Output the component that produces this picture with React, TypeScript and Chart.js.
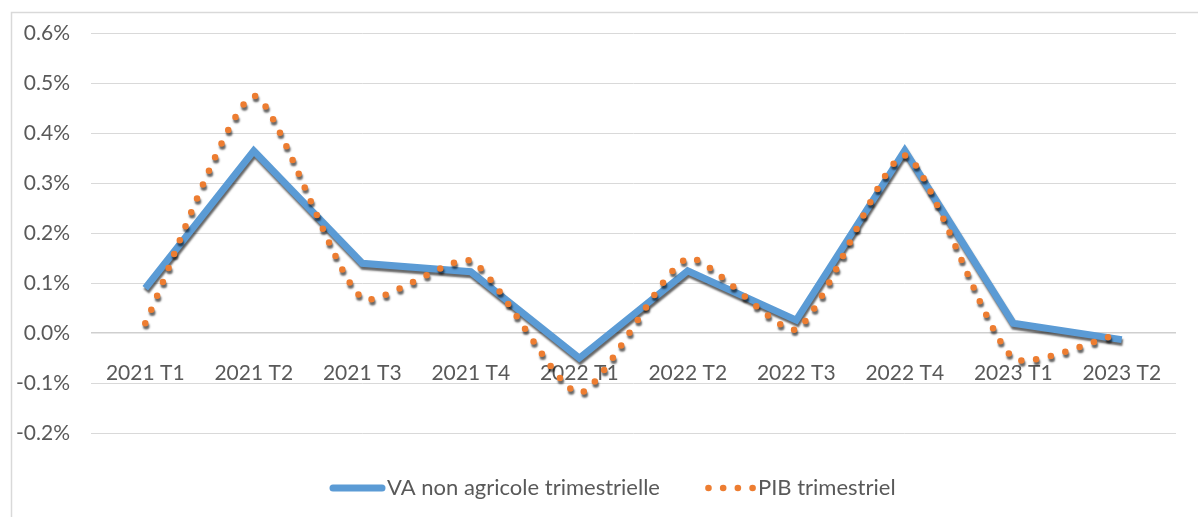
import React, { useEffect, useRef } from 'react';
import { Chart, registerables } from 'chart.js';

Chart.register(...registerables);

// ---- Data ----
const categories = ['2021 T1', '2021 T2', '2021 T3', '2021 T4', '2022 T1', '2022 T2', '2022 T3', '2022 T4', '2023 T1', '2023 T2'];
const vaNonAgricole = [0.09, 0.365, 0.14, 0.123, -0.05, 0.125, 0.026, 0.366, 0.02, -0.013];
const pibTrimestriel = [0.02, 0.475, 0.07, 0.145, -0.12, 0.15, 0.008, 0.356, -0.05, 0.0];
const seriesNames = ['VA non agricole trimestrielle', 'PIB trimestriel'];
const yMin = -0.2;
const yMax = 0.6;
const yStep = 0.1;

const BLUE = '#5B9BD5';
const ORANGE = '#ED7D31';
const TEXT = '#595959';
const GRID = '#D9D9D9';
const FONT = 'Lato';
const FONT_SIZE = 21;
const LEGEND_FONT_SIZE = 22;

const framePlugin = {
  id: 'frame',
  beforeDraw(chart: any) {
    const { ctx, width, height } = chart;
    ctx.save();
    ctx.fillStyle = '#ffffff';
    ctx.fillRect(0, 0, width, height);
    ctx.strokeStyle = GRID;
    ctx.lineWidth = 1.5;
    ctx.beginPath();
    ctx.moveTo(11.5, height + 2);
    ctx.lineTo(11.5, 12.5);
    ctx.lineTo(width + 2, 12.5);
    ctx.stroke();
    ctx.restore();
  },
};

const shadowPlugin = {
  id: 'lineShadow',
  beforeDatasetDraw(chart: any) {
    const ctx = chart.ctx;
    ctx.save();
    ctx.shadowColor = 'rgba(0,0,0,0.6)';
    ctx.shadowBlur = 2;
    ctx.shadowOffsetX = 1;
    ctx.shadowOffsetY = 3;
  },
  afterDatasetDraw(chart: any) {
    chart.ctx.restore();
  },
};

const legendPlugin = {
  id: 'customLegend',
  afterDraw(chart: any) {
    const ctx = chart.ctx;
    const y = 488;
    ctx.save();
    ctx.font = `${LEGEND_FONT_SIZE}px ${FONT}`;
    ctx.textBaseline = 'middle';
    ctx.textAlign = 'left';
    let x = 330;
    // blue line sample
    ctx.strokeStyle = BLUE;
    ctx.lineWidth = 7;
    ctx.lineCap = 'round';
    ctx.beginPath();
    ctx.moveTo(x + 3, y);
    ctx.lineTo(x + 52, y);
    ctx.stroke();
    x += 57;
    ctx.fillStyle = TEXT;
    ctx.fillText(seriesNames[0], x, y);
    x += ctx.measureText(seriesNames[0]).width + 45;
    // orange dots sample
    ctx.fillStyle = ORANGE;
    for (let i = 0; i < 4; i++) {
      ctx.beginPath();
      ctx.arc(x + 3.5 + i * 14.7, y, 3.3, 0, Math.PI * 2);
      ctx.fill();
    }
    x += 53;
    ctx.fillStyle = TEXT;
    ctx.fillText(seriesNames[1], x, y);
    ctx.restore();
  },
};

export default function App() {
  const canvasRef = useRef<HTMLCanvasElement | null>(null);

  useEffect(() => {
    let chart: Chart | null = null;
    let cancelled = false;
    const make = () => {
      if (cancelled || !canvasRef.current) return;
      Chart.defaults.font.family = FONT;
      chart = new Chart(canvasRef.current, {
        type: 'line',
        data: {
          labels: categories,
          datasets: [
            {
              label: seriesNames[0],
              data: vaNonAgricole,
              borderColor: BLUE,
              backgroundColor: BLUE,
              borderWidth: 7,
              pointRadius: 0,
              tension: 0,
              borderJoinStyle: 'miter',
              order: 1,
            },
            {
              label: seriesNames[1],
              data: pibTrimestriel,
              borderColor: ORANGE,
              backgroundColor: ORANGE,
              borderWidth: 6.5,
              borderDash: [0, 15],
              borderCapStyle: 'round',
              pointRadius: 0,
              tension: 0.2,
              order: 0,
            },
          ],
        },
        options: {
          animation: false,
          responsive: false,
          layout: { padding: { left: 0, right: 22, top: 26, bottom: 84 } },
          plugins: {
            legend: { display: false },
            tooltip: { enabled: false },
          },
          scales: {
            x: {
              position: { y: 0 } as any,
              offset: true,
              grid: { display: false },
              border: { display: false },
              ticks: {
                color: TEXT,
                font: { size: FONT_SIZE, family: FONT },
                padding: 19,
                maxRotation: 0,
                autoSkip: false,
              },
            },
            y: {
              min: yMin,
              max: yMax,
              afterFit: (s: any) => {
                s.width = 91;
              },
              grid: {
                color: (c: any) => (c.tick && Math.abs(c.tick.value) < 1e-9 ? '#CFCFCF' : GRID),
                lineWidth: (c: any) => (c.tick && Math.abs(c.tick.value) < 1e-9 ? 1.5 : 1),
                drawTicks: false,
              },
              border: { display: false },
              ticks: {
                stepSize: yStep,
                color: TEXT,
                font: { size: FONT_SIZE, family: FONT },
                padding: 21,
                callback: (v: any) => Number(v).toFixed(1) + '%',
              },
            },
          },
        },
        plugins: [framePlugin, shadowPlugin, legendPlugin],
      });
    };
    if ((document as any).fonts && (document as any).fonts.load) {
      (document as any).fonts.load(`${FONT_SIZE}px ${FONT}`).then(make, make);
    } else {
      make();
    }
    return () => {
      cancelled = true;
      if (chart) chart.destroy();
    };
  }, []);

  return (
    <div style={{ position: 'fixed', left: 0, top: 0, width: 1198, height: 517, background: '#fff' }}>
      <canvas ref={canvasRef} width={1198} height={517} style={{ display: 'block' }} />
    </div>
  );
}
